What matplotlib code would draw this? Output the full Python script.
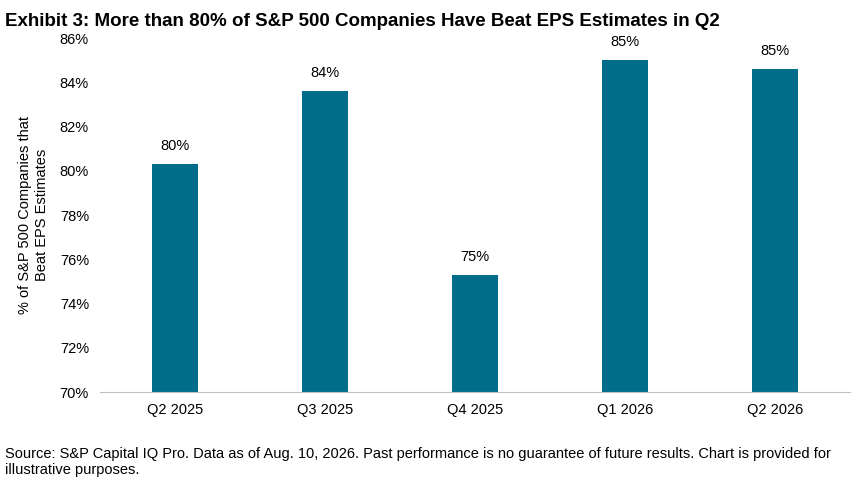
import matplotlib.pyplot as plt
import numpy as np

plt.rcParams["font.family"] = ["Liberation Sans", "DejaVu Sans"]

quarters = ["Q2 2025", "Q3 2025", "Q4 2025", "Q1 2026", "Q2 2026"]
beat_pct = [80.3, 83.6, 75.3, 85.0, 84.6]
bar_labels = ["80%", "84%", "75%", "85%", "85%"]

fig = plt.figure(figsize=(8.62, 4.84), dpi=100)
ax = fig.add_axes([0.116, 0.19, 0.87, 0.731])

x = np.arange(len(quarters))
ax.bar(x, [v - 70 for v in beat_pct], bottom=70, width=0.31, color="#006E8A")

for xi, v, lab in zip(x, beat_pct, bar_labels):
    ax.text(xi, v + 0.5, lab, ha="center", va="bottom", fontsize=10.5)

ax.set_xticks(x)
ax.set_xticklabels(quarters, fontsize=10.5)
ax.set_xlim(-0.5, len(quarters) - 0.5)
ax.set_ylim(70, 86)
ax.set_yticks(np.arange(70, 87, 2))
ax.set_yticklabels([f"{t}%" for t in range(70, 87, 2)], fontsize=10.5)
ax.tick_params(axis="both", length=0, pad=8)
for s in ["top", "right", "left"]:
    ax.spines[s].set_visible(False)
ax.spines["bottom"].set_color("#bfbfbf")

ax.set_ylabel("% of S&P 500 Companies that\nBeat EPS Estimates", fontsize=10.5, labelpad=8)

fig.text(0.006, 0.955, "Exhibit 3: More than 80% of S&P 500 Companies Have Beat EPS Estimates in Q2",
         fontsize=13.5, fontweight="bold", va="center", ha="left")
fig.text(0.006, 0.045,
         "Source: S&P Capital IQ Pro. Data as of Aug. 10, 2026. Past performance is no guarantee of future results. Chart is provided for\nillustrative purposes.",
         fontsize=10.5, va="center", ha="left", linespacing=1.2)

fig.savefig("out.png", dpi=100)
